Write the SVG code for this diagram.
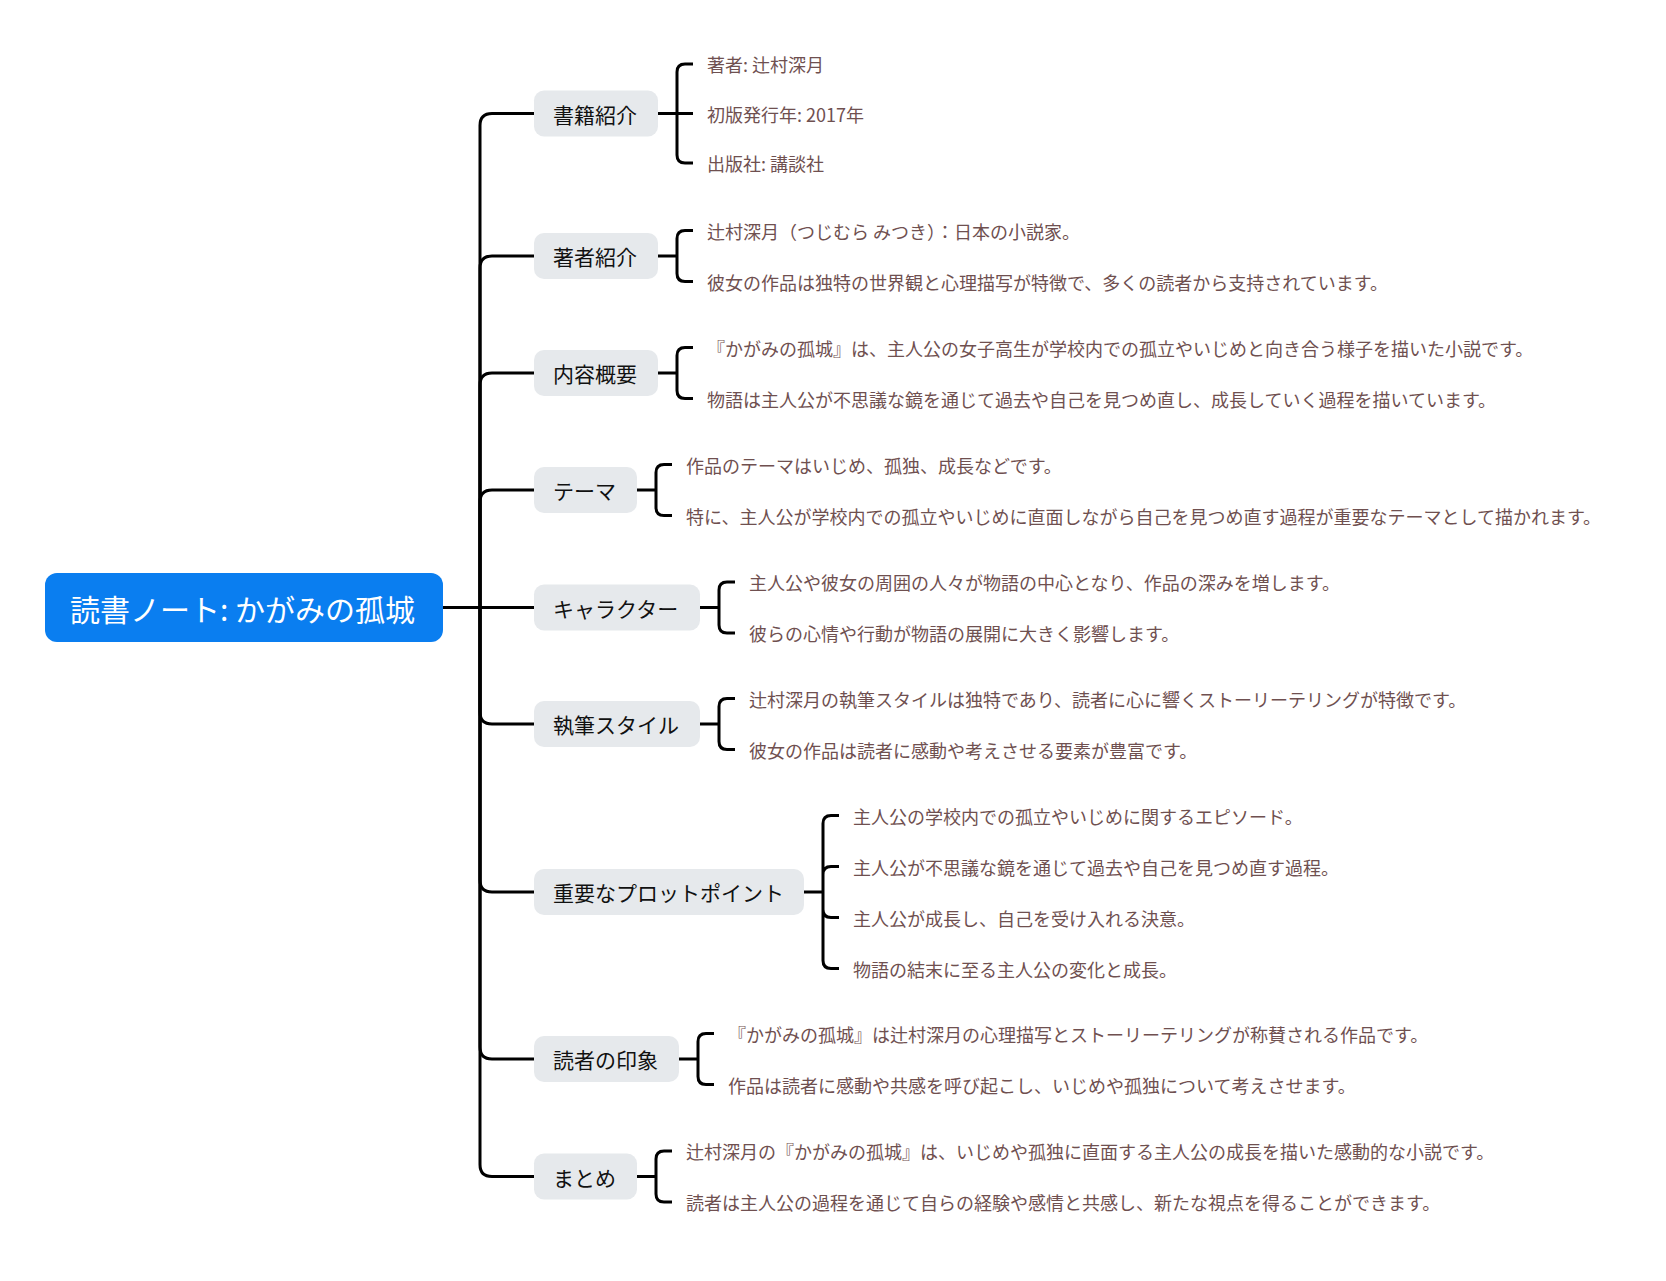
<svg xmlns="http://www.w3.org/2000/svg" width="1666" height="1281" viewBox="0 0 1666 1281">
<style>
.c{fill:none;stroke:#000;stroke-width:3}
.b{fill:#e6e9ec}
.t1{font-family:"Noto Sans CJK JP","Noto Sans",sans-serif;font-size:21px;fill:#111;dominant-baseline:central}
.lf{font-family:"Noto Sans CJK JP","Noto Sans",sans-serif;font-size:18px;fill:#6f5050;dominant-baseline:central}
.rt{font-family:"Noto Sans CJK JP","Noto Sans",sans-serif;font-size:30px;fill:#fff;dominant-baseline:central}
</style>
<rect width="1666" height="1281" fill="#fff"/>
<g id="connectors" class="c">
<path d="M443 607.5H480"/>
<path d="M480 607.5V125.5Q480 113.5 492 113.5H534"/>
<path d="M480 607.5V268Q480 256 492 256H534"/>
<path d="M480 607.5V385Q480 373 492 373H534"/>
<path d="M480 607.5V502Q480 490 492 490H534"/>
<path d="M480 607.5H534"/>
<path d="M480 607.5V712Q480 724 492 724H534"/>
<path d="M480 607.5V880Q480 892 492 892H534"/>
<path d="M480 607.5V1047Q480 1059 492 1059H534"/>
<path d="M480 607.5V1164.5Q480 1176.5 492 1176.5H534"/>
<path d="M658 113.5H677M677 113.5V72Q677 64 685 64H693M677 113.5H693M677 113.5V155Q677 163 685 163H693"/>
<path d="M658 256H677M677 256V238.5Q677 230.5 685 230.5H693M677 256V273.5Q677 281.5 685 281.5H693"/>
<path d="M658 373H677M677 373V355.5Q677 347.5 685 347.5H693M677 373V390.5Q677 398.5 685 398.5H693"/>
<path d="M637 490H656M656 490V472.5Q656 464.5 664 464.5H672M656 490V507.5Q656 515.5 664 515.5H672"/>
<path d="M700 607.5H719M719 607.5V590Q719 582 727 582H735M719 607.5V625Q719 633 727 633H735"/>
<path d="M700 724H719M719 724V706.5Q719 698.5 727 698.5H735M719 724V741.5Q719 749.5 727 749.5H735"/>
<path d="M804 892H823M823 892V823.5Q823 815.5 831 815.5H839M823 892V874.5Q823 866.5 831 866.5H839M823 892V909.5Q823 917.5 831 917.5H839M823 892V960.5Q823 968.5 831 968.5H839"/>
<path d="M679 1059H698M698 1059V1041.5Q698 1033.5 706 1033.5H714M698 1059V1076.5Q698 1084.5 706 1084.5H714"/>
<path d="M637 1176.5H656M656 1176.5V1159Q656 1151 664 1151H672M656 1176.5V1194Q656 1202 664 1202H672"/>
</g>
<g id="root">
<rect x="45" y="573" width="398" height="69" rx="12" fill="#0a7ef0"/>
<text class="rt" x="70" y="607.5">読書ノート: かがみの孤城</text>
</g>
<g id="n1">
<rect class="b" x="534" y="90.5" width="124" height="46" rx="10"/>
<text class="t1" x="553" y="113.5">書籍紹介</text>
<text class="lf" x="707" y="64">著者: 辻村深月</text>
<text class="lf" x="707" y="113.5">初版発行年: 2017年</text>
<text class="lf" x="707" y="163">出版社: 講談社</text>
</g>
<g id="n2">
<rect class="b" x="534" y="233" width="124" height="46" rx="10"/>
<text class="t1" x="553" y="256">著者紹介</text>
<text class="lf" x="707" y="230.5">辻村深月（つじむら みつき）：日本の小説家。</text>
<text class="lf" x="707" y="281.5">彼女の作品は独特の世界観と心理描写が特徴で、多くの読者から支持されています。</text>
</g>
<g id="n3">
<rect class="b" x="534" y="350" width="124" height="46" rx="10"/>
<text class="t1" x="553" y="373">内容概要</text>
<text class="lf" x="707" y="347.5">『かがみの孤城』は、主人公の女子高生が学校内での孤立やいじめと向き合う様子を描いた小説です。</text>
<text class="lf" x="707" y="398.5">物語は主人公が不思議な鏡を通じて過去や自己を見つめ直し、成長していく過程を描いています。</text>
</g>
<g id="n4">
<rect class="b" x="534" y="467" width="103" height="46" rx="10"/>
<text class="t1" x="553" y="490">テーマ</text>
<text class="lf" x="686" y="464.5">作品のテーマはいじめ、孤独、成長などです。</text>
<text class="lf" x="686" y="515.5">特に、主人公が学校内での孤立やいじめに直面しながら自己を見つめ直す過程が重要なテーマとして描かれます。</text>
</g>
<g id="n5">
<rect class="b" x="534" y="584.5" width="166" height="46" rx="10"/>
<text class="t1" x="553" y="607.5">キャラクター</text>
<text class="lf" x="749" y="582">主人公や彼女の周囲の人々が物語の中心となり、作品の深みを増します。</text>
<text class="lf" x="749" y="633">彼らの心情や行動が物語の展開に大きく影響します。</text>
</g>
<g id="n6">
<rect class="b" x="534" y="701" width="166" height="46" rx="10"/>
<text class="t1" x="553" y="724">執筆スタイル</text>
<text class="lf" x="749" y="698.5">辻村深月の執筆スタイルは独特であり、読者に心に響くストーリーテリングが特徴です。</text>
<text class="lf" x="749" y="749.5">彼女の作品は読者に感動や考えさせる要素が豊富です。</text>
</g>
<g id="n7">
<rect class="b" x="534" y="869" width="270" height="46" rx="10"/>
<text class="t1" x="553" y="892">重要なプロットポイント</text>
<text class="lf" x="853" y="815.5">主人公の学校内での孤立やいじめに関するエピソード。</text>
<text class="lf" x="853" y="866.5">主人公が不思議な鏡を通じて過去や自己を見つめ直す過程。</text>
<text class="lf" x="853" y="917.5">主人公が成長し、自己を受け入れる決意。</text>
<text class="lf" x="853" y="968.5">物語の結末に至る主人公の変化と成長。</text>
</g>
<g id="n8">
<rect class="b" x="534" y="1036" width="145" height="46" rx="10"/>
<text class="t1" x="553" y="1059">読者の印象</text>
<text class="lf" x="728" y="1033.5">『かがみの孤城』は辻村深月の心理描写とストーリーテリングが称賛される作品です。</text>
<text class="lf" x="728" y="1084.5">作品は読者に感動や共感を呼び起こし、いじめや孤独について考えさせます。</text>
</g>
<g id="n9">
<rect class="b" x="534" y="1153.5" width="103" height="46" rx="10"/>
<text class="t1" x="553" y="1176.5">まとめ</text>
<text class="lf" x="686" y="1151">辻村深月の『かがみの孤城』は、いじめや孤独に直面する主人公の成長を描いた感動的な小説です。</text>
<text class="lf" x="686" y="1202">読者は主人公の過程を通じて自らの経験や感情と共感し、新たな視点を得ることができます。</text>
</g>
</svg>
